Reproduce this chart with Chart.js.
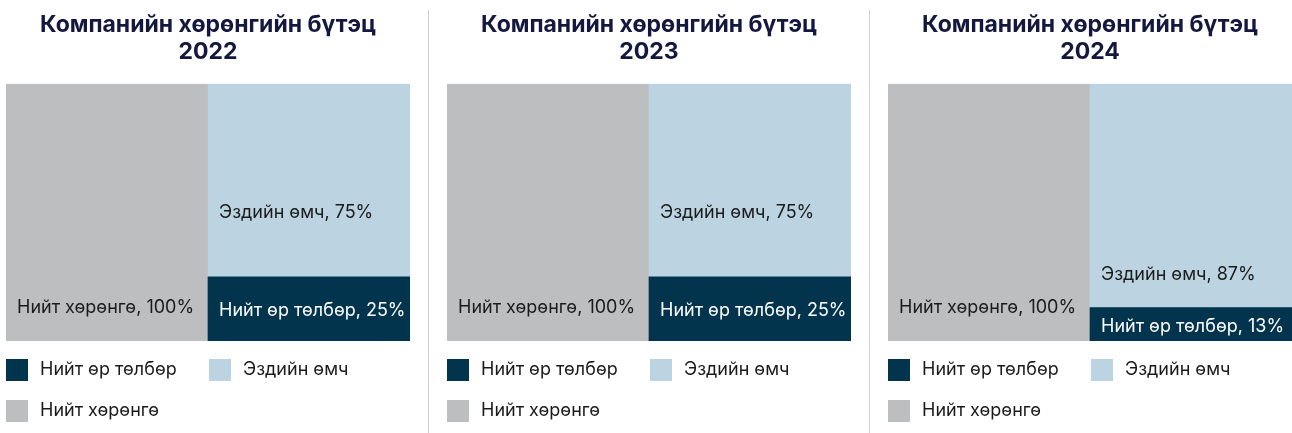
<!DOCTYPE html>
<html>
<head>
<meta charset="utf-8">
<script src="https://cdn.jsdelivr.net/npm/chart.js@4.4.1/dist/chart.umd.min.js"></script>
<style>
    html, body { margin: 0; padding: 0; background: #fff; }
    #wrap { position: relative; width: 1292px; height: 433px; overflow: hidden; }
    .panel { position: absolute; top: 0; width: 410px; height: 433px; }
    .divider { position: absolute; top: 10px; bottom: 0; width: 1px; background: #d0d0d0; }
</style>
</head>
<body>
<div id="wrap">
    <div class="panel" style="left:0"><canvas id="chart0"></canvas></div>
    <div class="divider" style="left:428px"></div>
    <div class="panel" style="left:441px"><canvas id="chart1"></canvas></div>
    <div class="divider" style="left:869px"></div>
    <div class="panel" style="left:882px"><canvas id="chart2"></canvas></div>
</div>
<script>
const titleText = 'Компанийн хөрөнгийн бүтэц';
const years = ['2022', '2023', '2024'];
const categories = ['Хөрөнгө', 'Эх үүсвэр'];
const seriesNames = ['Нийт өр төлбөр', 'Эздийн өмч', 'Нийт хөрөнгө'];
const liabilities = [25, 25, 13];
const equity = [75, 75, 87];
const assets = [100, 100, 100];

const colors = ['#02344d', '#bcd4e2', '#bdbec0'];
const labelColors = ['#ffffff', '#1a1a1a', '#1a1a1a'];
const fontFamily = 'Inter, "Noto Sans", sans-serif';

// labels written inside the bars
const barLabels = {
    id: 'barLabels',
    afterDatasetsDraw(chart) {
        const ctx = chart.ctx;
        const bottom = chart.chartArea.bottom;
        ctx.save();
        ctx.font = '18px ' + fontFamily;
        ctx.textAlign = 'left';
        ctx.textBaseline = 'middle';
        chart.data.datasets.forEach((ds, i) => {
            const meta = chart.getDatasetMeta(i);
            meta.data.forEach((el, j) => {
                const v = ds.data[j];
                if (v === null || v === undefined) return;
                const p = el.getProps(['x', 'y', 'base', 'width'], true);
                let y;
                if (i === 0) {
                    y = (p.y + p.base) / 2 + 2;
                } else if (i === 1) {
                    y = p.base - (bottom - p.base);
                } else {
                    y = p.base - 33;
                }
                ctx.fillStyle = labelColors[i];
                ctx.fillText(ds.label + ', ' + v + '%', p.x - p.width / 2 + 11, y);
            });
        });
        ctx.restore();
    }
};

// two column legend under the plot
const gridLegend = {
    id: 'gridLegend',
    afterDraw(chart) {
        const ctx = chart.ctx;
        const area = chart.chartArea;
        ctx.save();
        ctx.font = '18px ' + fontFamily;
        ctx.textBaseline = 'middle';
        ctx.textAlign = 'left';
        chart.data.datasets.forEach((ds, i) => {
            const x = area.left + (i % 2) * 203;
            const top = area.bottom + 18 + Math.floor(i / 2) * 41;
            ctx.fillStyle = ds.backgroundColor;
            ctx.fillRect(x, top, 22, 22);
            ctx.fillStyle = '#1a1a1a';
            ctx.fillText(ds.label, x + 34, top + 11);
        });
        ctx.restore();
    }
};

function makeChart(idx) {
    const ctx = document.getElementById('chart' + idx).getContext('2d');
    return new Chart(ctx, {
        type: 'bar',
        data: {
            labels: categories,
            datasets: [
                { label: seriesNames[0], data: [null, liabilities[idx]], backgroundColor: colors[0] },
                { label: seriesNames[1], data: [null, equity[idx]], backgroundColor: colors[1] },
                { label: seriesNames[2], data: [assets[idx], null], backgroundColor: colors[2] }
            ]
        },
        options: {
            responsive: true,
            maintainAspectRatio: false,
            animation: false,
            layout: { padding: { left: 6, right: 0, top: 0, bottom: 92 } },
            datasets: {
                bar: { categoryPercentage: 1, barPercentage: 1, borderWidth: 0 }
            },
            scales: {
                x: { stacked: true, display: false },
                y: { stacked: true, display: false, min: 0, max: 100 }
            },
            plugins: {
                legend: { display: false },
                tooltip: { enabled: false },
                title: {
                    display: true,
                    text: [titleText, years[idx]],
                    color: '#14183e',
                    font: { family: fontFamily, size: 23, weight: 'bold', lineHeight: 1.17 },
                    padding: { top: 12, bottom: 18 }
                }
            }
        },
        plugins: [barLabels, gridLegend]
    });
}

years.forEach((y, i) => makeChart(i));
</script>
</body>
</html>
